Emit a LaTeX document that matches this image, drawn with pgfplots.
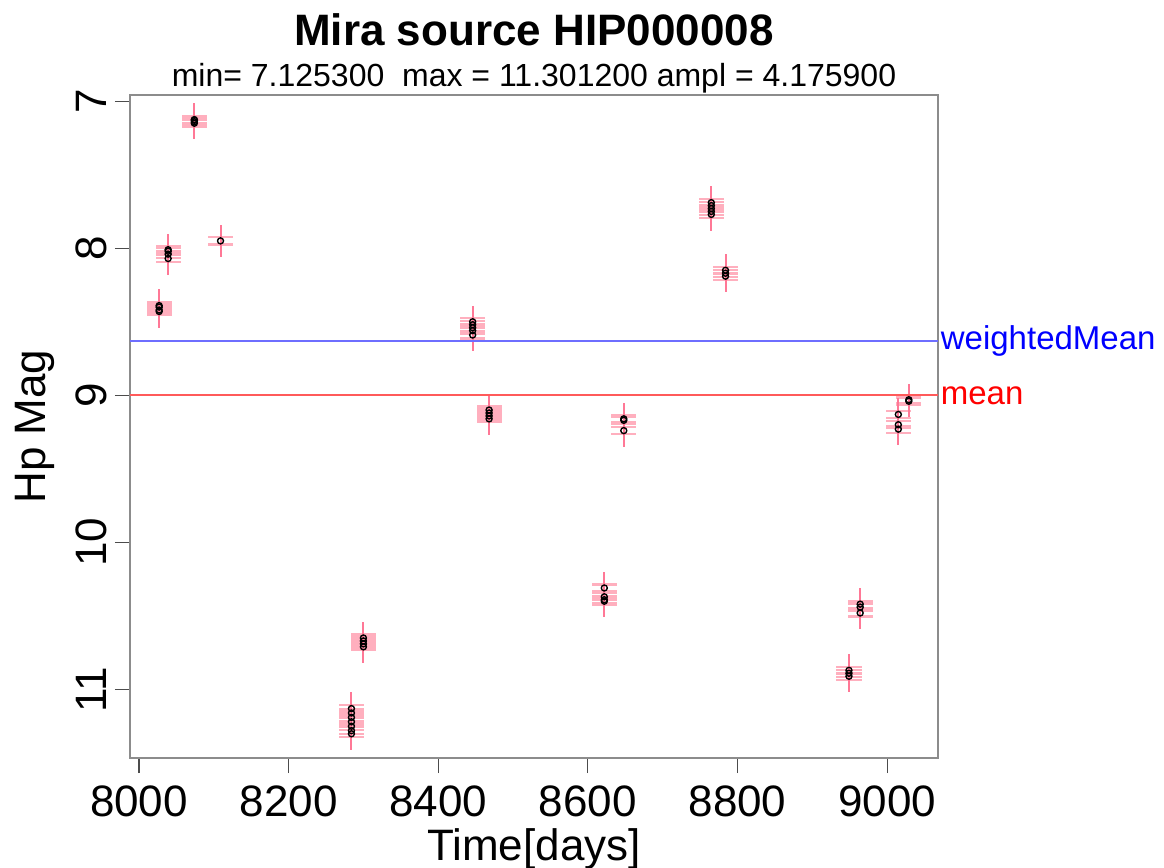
\documentclass[border=0pt]{standalone}
\usepackage{fontspec}
\setmainfont{Liberation Sans}
\usepackage{pgfplots}
\pgfplotsset{compat=1.18}
\usepackage{pgfplotstable}
\definecolor{pinkV}{RGB}{255,120,150}
\definecolor{pinkH}{RGB}{255,175,190}
\definecolor{wmblue}{RGB}{110,110,255}
\definecolor{mnred}{RGB}{255,90,90}

\pgfplotstableread{
t m
8027 8.39
8027 8.40
8027 8.42
8027 8.43
8039 8.01
8039 8.02
8039 8.04
8039 8.07
8074 7.1253
8074 7.13
8074 7.14
8074 7.15
8109 7.95
8284 11.13
8284 11.16
8284 11.19
8284 11.22
8284 11.25
8284 11.28
8284 11.3012
8300 10.65
8300 10.67
8300 10.69
8300 10.71
8446 8.50
8446 8.52
8446 8.54
8446 8.56
8446 8.59
8468 9.10
8468 9.12
8468 9.14
8468 9.16
8622 10.31
8622 10.37
8622 10.39
8622 10.40
8648 9.16
8648 9.17
8648 9.24
8765 7.69
8765 7.71
8765 7.73
8765 7.75
8765 7.77
8784 8.15
8784 8.17
8784 8.19
8949 10.87
8949 10.89
8949 10.91
8964 10.42
8964 10.44
8964 10.48
9015 9.13
9015 9.20
9015 9.23
9029 9.03
9029 9.04
}\data

\begin{document}
\begin{tikzpicture}
\begin{axis}[
  scale only axis, width=404pt, height=331.5pt,
  xmin=7988, xmax=9068, ymin=6.958, ymax=11.466, y dir=reverse,
  xtick={8000,8200,8400,8600,8800,9000}, ytick={7,8,9,10,11},
  tick align=outside, major tick length=7.5pt,
  axis line style={black!45, line width=1pt},
  tick style={black!70, line width=0.6pt},
  xtick pos=bottom, ytick pos=left,
  every tick label/.append style={font=\fontsize{22}{26}\selectfont},
  /pgf/number format/assume math mode=true,
  /pgf/number format/1000 sep={},
  yticklabel style={rotate=90, anchor=south, inner sep=4pt},
  xticklabel style={inner sep=4pt, yshift=-2pt},
  xlabel={Time[days]}, ylabel={Hp Mag},
  label style={font=\fontsize{22}{26}\selectfont},
  xlabel style={yshift=1.5pt},
  ylabel style={yshift=3pt},
  clip=false,
]
\addplot[draw=none, mark=none, forget plot,
  error bars/.cd, x dir=both, x fixed=16.8, error mark=none,
  error bar style={draw=pinkH, line width=1.1pt}] table[y expr=\thisrow{m}-0.024] {\data};
\addplot[draw=none, mark=none, forget plot,
  error bars/.cd, x dir=both, x fixed=16.8, error mark=none,
  error bar style={draw=pinkH, line width=1.1pt}] table[y expr=\thisrow{m}+0.024] {\data};
\addplot[draw=none, mark=none, forget plot,
  error bars/.cd, y dir=both, y fixed=0.11, error mark=none,
  error bar style={draw=pinkV, line width=1pt}] table {\data};
\addplot[only marks, mark=o, mark size=1.5pt, black, line width=0.7pt] table {\data};
\addplot[wmblue, line width=0.9pt, mark=none] coordinates {(7988,8.63) (9068,8.63)}
  node[pos=1, anchor=west, text=blue, inner sep=1pt, font=\fontsize{16.5}{19}\selectfont] {weightedMean};
\addplot[mnred, line width=0.9pt, mark=none] coordinates {(7988,9.0) (9068,9.0)}
  node[pos=1, anchor=west, text=red, inner sep=1pt, font=\fontsize{16.5}{19}\selectfont] {mean};
\coordinate (BL) at (axis cs:7988,11.466);
\coordinate (TC) at (axis cs:8528,6.958);
\end{axis}
\node[font=\bfseries\fontsize{22}{26}\selectfont] at ([yshift=32.5pt]TC) {Mira source HIP000008};
\node[font=\fontsize{16}{19}\selectfont] at ([yshift=8.5pt]TC) {min= 7.125300\ \ max = 11.301200 ampl = 4.175900};
\pgfresetboundingbox
\useasboundingbox ([shift={(-65pt,-55pt)}]BL) rectangle ([shift={(517pt,379pt)}]BL);
\end{tikzpicture}
\end{document}
